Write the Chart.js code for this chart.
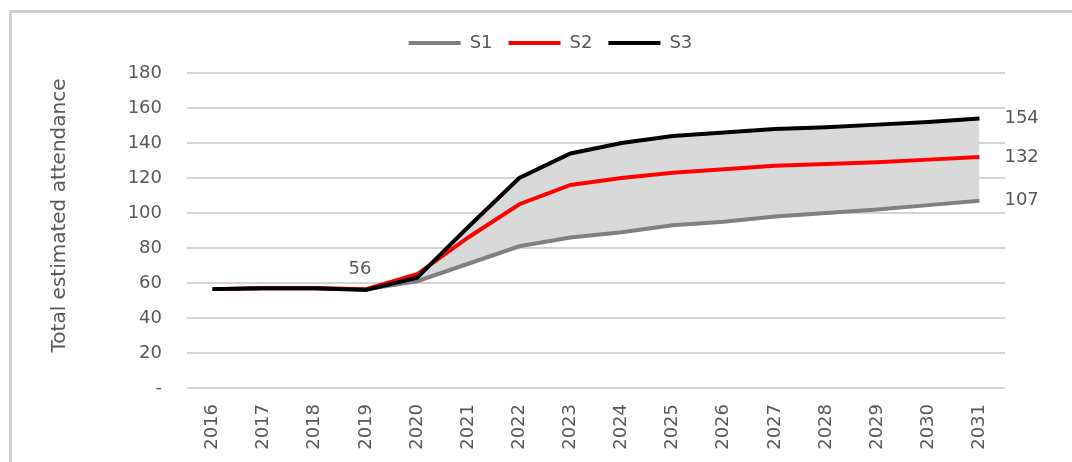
<!DOCTYPE html>
<html>
<head>
<meta charset="utf-8">
<title>Total estimated attendance</title>
<script src="https://cdn.jsdelivr.net/npm/chart.js@4"></script>
<style>
    body { margin: 0; background: #fff; }
    .wrap { position: relative; width: 1072px; height: 462px; }
    .frame {
        position: absolute; left: 9px; top: 10px; right: 0; bottom: 0;
        border-top: 3px solid #cfcfcf; border-left: 3px solid #cfcfcf;
    }
    #attendance-chart { position: absolute; left: 0; top: 0; }
</style>
</head>
<body>
<div class="wrap">
    <div class="frame"></div>
    <canvas id="attendance-chart" width="1072" height="462"></canvas>
</div>
<script>
    const years = ['2016', '2017', '2018', '2019', '2020', '2021', '2022', '2023',
        '2024', '2025', '2026', '2027', '2028', '2029', '2030', '2031'];

    // low / mid / high scenarios
    const s1 = [56.5, 57, 57, 56.5, 61, 71, 81, 86, 89, 93, 95, 98, 100, 102, 104.5, 107];
    const s2 = [56.5, 57, 57, 56.5, 65, 86, 105, 116, 120, 123, 125, 127, 128, 129, 130.5, 132];
    const s3 = [56.5, 57, 57, 56, 63, 92, 120, 134, 140, 144, 146, 148, 149, 150.5, 152, 154];

    const yTicks = [0, 20, 40, 60, 80, 100, 120, 140, 160, 180];
    const yTitle = 'Total estimated attendance';

    const fontFamily = '"DejaVu Sans", sans-serif';
    const textColor = '#595959';

    // some room under the legend
    const legendGap = {
        id: 'legendGap',
        beforeInit(chart) {
            const fit = chart.legend.fit;
            chart.legend.fit = function () {
                fit.call(this);
                this.height += 11;
            };
        }
    };

    // value labels: 2019 point on S3, the last value of every series, and the y title
    const valueLabels = {
        id: 'valueLabels',
        afterDatasetsDraw(chart) {
            const ctx = chart.ctx;
            const area = chart.chartArea;
            ctx.save();
            ctx.font = '18px ' + fontFamily;
            ctx.fillStyle = textColor;
            ctx.textBaseline = 'middle';

            const high = chart.getDatasetMeta(2).data;
            const p19 = high[years.indexOf('2019')];
            ctx.textAlign = 'center';
            ctx.fillText(Math.round(s3[3]), p19.x - 6, p19.y - 21);

            ctx.textAlign = 'left';
            [0, 1, 2].forEach(function (i) {
                const pts = chart.getDatasetMeta(i).data;
                const last = pts[pts.length - 1];
                const vals = chart.data.datasets[i].data;
                ctx.fillText(Math.round(vals[vals.length - 1]), last.x + 25, last.y);
            });

            ctx.translate(60, (area.top + area.bottom) / 2 - 15);
            ctx.rotate(-Math.PI / 2);
            ctx.textAlign = 'center';
            ctx.font = '20px ' + fontFamily;
            ctx.fillText(yTitle, 0, 0);
            ctx.restore();
        }
    };

    new Chart(document.getElementById('attendance-chart'), {
        type: 'line',
        data: {
            labels: years,
            datasets: [{
                label: 'S1',
                data: s1,
                borderColor: '#808080',
                borderWidth: 4,
                pointRadius: 0,
                fill: false,
                order: 2
            }, {
                label: 'S2',
                data: s2,
                borderColor: '#ff0000',
                borderWidth: 4,
                pointRadius: 0,
                fill: false,
                order: 1
            }, {
                label: 'S3',
                data: s3,
                borderColor: '#000000',
                backgroundColor: '#d9d9d9',
                borderWidth: 4,
                pointRadius: 0,
                fill: 0,
                order: 0
            }]
        },
        options: {
            responsive: false,
            animation: false,
            layout: {
                padding: { top: 18, right: 67, left: 96, bottom: 0 }
            },
            plugins: {
                tooltip: { enabled: false },
                filler: { drawTime: 'beforeDatasetsDraw' },
                legend: {
                    position: 'top',
                    labels: {
                        usePointStyle: true,
                        pointStyle: 'line',
                        pointStyleWidth: 52,
                        padding: 16,
                        color: textColor,
                        font: { family: fontFamily, size: 18 },
                        sort: function (a, b) { return a.datasetIndex - b.datasetIndex; }
                    }
                }
            },
            scales: {
                x: {
                    offset: true,
                    grid: { display: false },
                    border: { display: false },
                    ticks: {
                        minRotation: 90,
                        maxRotation: 90,
                        padding: 8,
                        color: textColor,
                        font: { family: fontFamily, size: 18 }
                    },
                    afterFit: function (scale) { scale.height = 74; }
                },
                y: {
                    min: 0,
                    max: 180,
                    afterBuildTicks: function (scale) {
                        scale.ticks = yTicks.map(function (v) { return { value: v }; });
                    },
                    grid: { color: '#d4d4d4', lineWidth: 2, drawTicks: false },
                    border: { display: false },
                    ticks: {
                        padding: 25,
                        color: textColor,
                        font: { family: fontFamily, size: 18 },
                        callback: function (v) { return v === 0 ? '-' : v; }
                    },
                    afterFit: function (scale) { scale.width = 91; }
                }
            }
        },
        plugins: [legendGap, valueLabels]
    });
</script>
</body>
</html>
